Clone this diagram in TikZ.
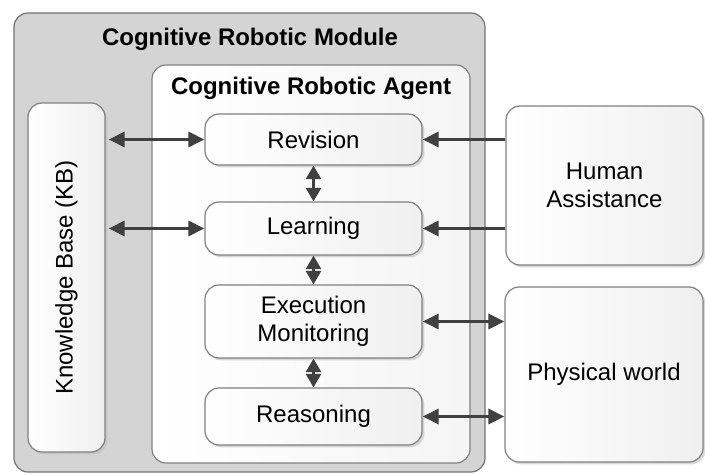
\documentclass[tikz,border=0pt]{standalone}
\usepackage{fontspec}
\setmainfont{Liberation Sans}
\usetikzlibrary{arrows.meta,shadows}

\tikzset{
  boxtext/.style={font=\fontsize{12}{14}\selectfont, align=center},
  unitbox/.style={boxtext, draw=black!50, line width=0.6pt, rounded corners=7pt,
    left color=white, right color=black!6, inner sep=0pt,
    drop shadow={shadow xshift=1.2pt, shadow yshift=-1.2pt, fill=black!25, opacity=0.6}},
  title/.style={font=\fontsize{12}{14}\selectfont\bfseries},
  link/.style={draw=black!75, line width=1.5pt,
    {Triangle[length=8pt,width=7.5pt]}-{Triangle[length=8pt,width=7.5pt]}},
  vlink/.style={draw=black!75, line width=1.5pt,
    {Triangle[length=6.8pt,width=7.5pt]}-{Triangle[length=6.8pt,width=7.5pt]}},
  feed/.style={draw=black!75, line width=1.5pt, -{Triangle[length=8pt,width=7.5pt]}}
}

\begin{document}
\begin{tikzpicture}[x=0.5pt,y=-0.5pt]
\useasboundingbox (0,0) rectangle (705,475);

% Modul ve ajan kutulari
\node[draw=black!55, line width=0.6pt, rounded corners=7pt, fill=black!17,
  minimum width=235.5pt, minimum height=229.5pt] (module) at (249.5,242.5) {};
\node[title] (moduletitle) at (250,39) {Cognitive Robotic Module};

\node[draw=black!50, line width=0.6pt, rounded corners=7pt, left color=white, right color=black!4,
  minimum width=159pt, minimum height=199pt] (agent) at (311,264) {};
\node[title] (agenttitle) at (311,88) {Cognitive Robotic Agent};

% Bilgi tabani
\node[unitbox, minimum width=38.5pt, minimum height=174.5pt] (kb) at (66.5,277.5) {};
\node[boxtext, rotate=90] (kbtext) at (kb.center) {Knowledge Base (KB)};

% Ajan icindeki birimler
\node[unitbox, minimum width=108.5pt, minimum height=25.5pt] (rev) at (313.5,139.5) {Revision};
\node[unitbox, minimum width=108.5pt, minimum height=26.5pt] (learn) at (313.5,228.5) {Learning};
\node[unitbox, minimum width=108.5pt, minimum height=36.5pt] (exec) at (313.5,321.5) {Execution\\Monitoring};
\node[unitbox, minimum width=108.5pt, minimum height=28.5pt] (reason) at (313.5,416.5) {Reasoning};

% Dis dunya
\node[unitbox, minimum width=98.5pt, minimum height=79.5pt] (human) at (604.5,185.5) {Human\\Assistance};
\node[unitbox, minimum width=99pt, minimum height=87.5pt] (phys) at (604,374.5) {Physical world};

% Baglantilar
\draw[link, shorten <=1.5pt] (kb.east |- rev.west) -- (rev.west);
\draw[link, shorten <=1.5pt] (kb.east |- learn.west) -- (learn.west);
\draw[feed] (human.west |- rev.east) -- (rev.east);
\draw[feed] (human.west |- learn.east) -- (learn.east);
\draw[link] (exec.east) -- (exec.east -| phys.west);
\draw[link] (reason.east) -- (reason.east -| phys.west);

\draw[vlink] (rev.south) -- (learn.north);
\draw[vlink] (learn.south) -- (exec.north);
\draw[vlink] (exec.south) -- (reason.north);

\end{tikzpicture}
\end{document}
